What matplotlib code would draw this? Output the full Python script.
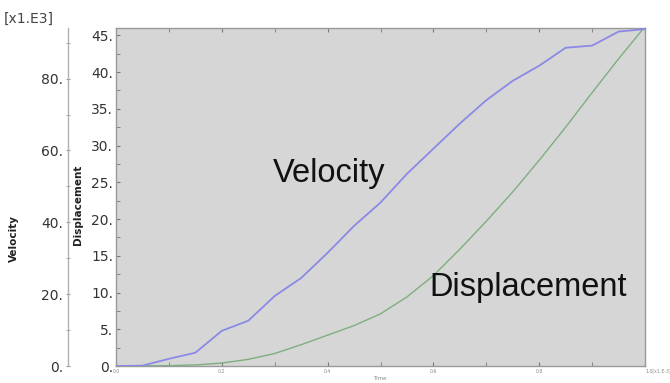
import matplotlib
matplotlib.use("Agg")
import matplotlib.pyplot as plt
from matplotlib.ticker import MultipleLocator, FixedLocator, FuncFormatter

# ---- data ----
time = [0.0, 0.05, 0.10, 0.15, 0.20, 0.25, 0.30, 0.35, 0.40, 0.45, 0.50,
        0.55, 0.60, 0.65, 0.70, 0.75, 0.80, 0.85, 0.90, 0.95, 1.00]
velocity = [0.0, 0.1, 2.0, 3.7, 9.8, 12.6, 19.5, 24.5, 31.5, 39.0, 45.5,
            53.5, 60.5, 67.5, 74.0, 79.4, 83.6, 88.6, 89.2, 93.1, 93.8]   # x1.E3
displacement = [0.0, 0.0, 0.05, 0.15, 0.4, 0.9, 1.7, 2.9, 4.2, 5.5, 7.1,
                9.4, 12.3, 15.9, 19.7, 23.7, 28.0, 32.5, 37.2, 41.8, 46.2]
x_ticks = [0.0, 0.2, 0.4, 0.6, 0.8, 1.0]
x_tick_labels = ["0.0", "0.2", "0.4", "0.6", "0.8", "1.0[x1.E-3]"]

W, H = 670, 383
fig = plt.figure(figsize=(W / 100, H / 100), dpi=100)
fig.patch.set_facecolor("white")

left, right, top, bottom = 116, 645, 28, 366
ax = fig.add_axes([left / W, 1 - bottom / H, (right - left) / W, (bottom - top) / H])
ax.set_facecolor("#d6d6d6")

ax.plot(time, displacement, color="#7fae7f", lw=1.0, zorder=3)
ax.set_xlim(0, 1.0)
ax.set_ylim(0, 46.0)

spine_col = "#9a9a9a"
for s in ax.spines.values():
    s.set_color(spine_col)
    s.set_linewidth(1.0)

ax.yaxis.set_major_locator(MultipleLocator(5))
ax.yaxis.set_minor_locator(MultipleLocator(2.5))
ax.yaxis.set_major_formatter(FuncFormatter(lambda v, p: f"{int(round(v))}."))
ax.xaxis.set_major_locator(FixedLocator(x_ticks))
ax.xaxis.set_minor_locator(MultipleLocator(0.1))
ax.set_xticklabels(x_tick_labels)
ax.tick_params(axis="y", which="both", direction="in", left=True, right=True,
               length=3, color="#777777", labelsize=10, labelcolor="#333333", pad=2)
ax.tick_params(axis="x", which="both", direction="in", top=True, bottom=True,
               length=3, color="#777777", labelsize=3.3, labelcolor="#888888", pad=2)
for lab in ax.get_xticklabels():
    if lab.get_text().startswith("1.0"):
        lab.set_horizontalalignment("left")
        lab.set_x(0.995)

# velocity axis on the left (offset)
ax2 = ax.twinx()
ax2.plot(time, velocity, color="#8a8ae6", lw=1.3, zorder=3)
ax2.set_ylim(0, 94.1)
ax2.spines["right"].set_visible(False)
ax2.spines["top"].set_visible(False)
ax2.spines["bottom"].set_visible(False)
ax2.spines["left"].set_position(("axes", (68 - left) / (right - left)))
ax2.spines["left"].set_color("#b0b0b0")
ax2.spines["left"].set_linewidth(1.0)
ax2.yaxis.set_ticks_position("left")
ax2.yaxis.set_label_position("left")
ax2.yaxis.set_major_locator(MultipleLocator(20))
ax2.yaxis.set_minor_locator(MultipleLocator(10))
ax2.yaxis.set_major_formatter(FuncFormatter(lambda v, p: f"{int(round(v))}."))
ax2.tick_params(axis="y", which="both", direction="inout", length=3, color="#999999",
                labelsize=10, labelcolor="#333333", pad=2)

# labels
fig.text(14 / W, 1 - 238 / H, "Velocity", rotation=90, ha="center", va="center",
         fontsize=7.5, fontweight="bold", color="#222222")
fig.text(78 / W, 1 - 205 / H, "Displacement", rotation=90, ha="center", va="center",
         fontsize=7.5, fontweight="bold", color="#222222")
fig.text(4 / W, 1 - 19 / H, "[x1.E3]", ha="left", va="center", fontsize=10, color="#444444")
fig.text(380 / W, 1 - 379 / H, "Time", ha="center", va="center", fontsize=4, color="#888888")

# annotations
ax.text(273, H - 182, "Velocity", transform=None, fontsize=23.5,
        family="Liberation Sans", color="#111111", ha="left", va="baseline", zorder=5)
ax.text(429, H - 296, "Displacement", transform=None, fontsize=23.5,
        family="Liberation Sans", color="#111111", ha="left", va="baseline", zorder=5)

fig.savefig("out.png", dpi=100)
